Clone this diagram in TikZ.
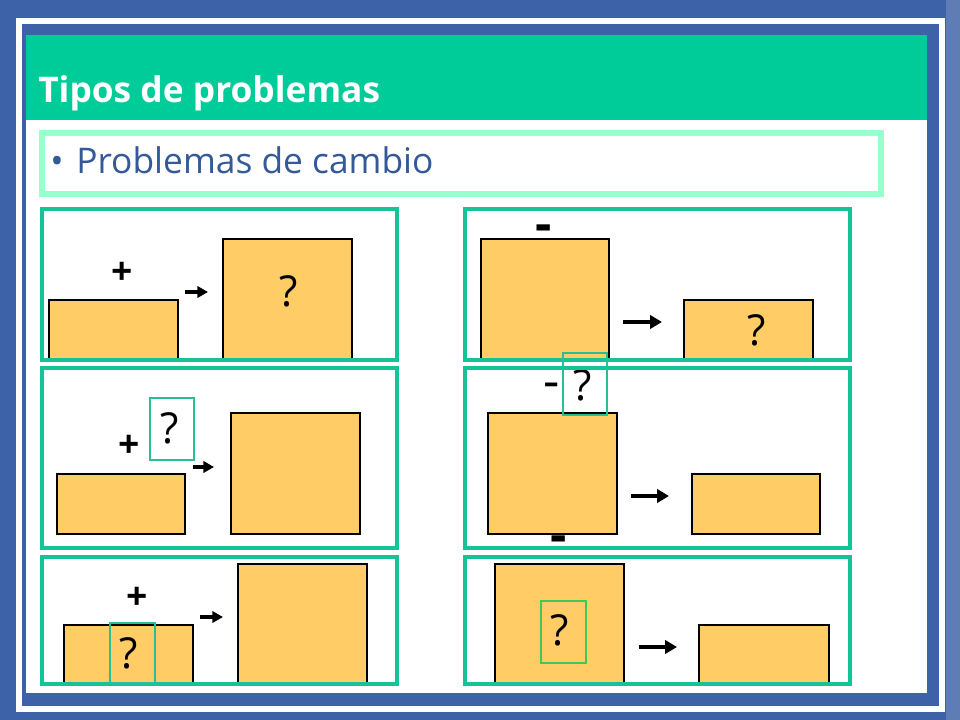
\documentclass[tikz,border=0pt]{standalone}
\usepackage{fontspec}
\setmainfont{Open Sans}
\usetikzlibrary{arrows.meta}
\definecolor{bgblue}{RGB}{62,98,168}
\definecolor{bgblue2}{RGB}{95,125,180}
\definecolor{hdr}{RGB}{0,204,153}
\definecolor{pnl}{RGB}{20,196,150}
\definecolor{subb}{RGB}{153,255,204}
\definecolor{subt}{RGB}{51,90,150}
\definecolor{boxf}{RGB}{255,204,102}
\definecolor{qbox}{RGB}{40,190,150}
\definecolor{qboxg}{RGB}{60,200,90}
\begin{document}
\begin{tikzpicture}[x=0.75pt,y=-0.75pt,
  panel/.style={draw=pnl,line width=3pt},
  obox/.style={fill=boxf,draw=black,line width=0.8pt},
  qframe/.style={draw=qbox,line width=0.8pt},
  arr/.style={-{Triangle[length=9pt,width=10pt]},line width=3.4pt},
  sarr/.style={-{Triangle[length=8pt,width=8.5pt]},line width=3.4pt},
  plus/.style={font=\fontsize{28}{30}\selectfont\bfseries,inner sep=0pt},
  minus/.style={font=\fontsize{38}{40}\selectfont\bfseries,inner sep=0pt},
  thinminus/.style={font=\fontsize{38}{40}\selectfont,inner sep=0pt},
  qm/.style={font=\fontsize{32}{34}\selectfont,inner sep=0pt}]
\useasboundingbox (0,0) rectangle (960,720);
% background
\fill[bgblue] (0,0) rectangle (960,720);
\fill[bgblue2] (946,0) rectangle (960,720);
\draw[white,line width=4.5pt] (19,21) rectangle (942,709);
\fill[white] (26,35) rectangle (927,693);
\fill[hdr] (26,35) rectangle (927,120);
\node[anchor=base west,text=white,font=\fontsize{26.5}{28}\selectfont\bfseries,inner sep=0pt] (title) at (38,103) {Tipos de problemas};
% subtitle
\draw[subb,line width=4.5pt] (42,133) rectangle (881,194);
\node[anchor=base west,text=subt,font=\fontsize{26.5}{28}\selectfont,inner sep=0pt] (bul) at (50,174) {•};
\node[anchor=base west,text=subt,font=\fontsize{26.5}{28}\selectfont,inner sep=0pt] (sub) at (76,174) {Problemas de cambio};
% panel 1
\draw[obox] (49,300) rectangle (178,360);
\draw[obox] (223,239) rectangle (352,360);
\node[plus] (p1s) at (122,273) {+};
\node[qm] (p1q) at (289,291) {?};
\coordinate (a1s) at (185,292); \coordinate (a1e) at (208,292);
\draw[sarr] (a1s) -- (a1e);
% panel 2
\draw[obox] (481,239) rectangle (609,360);
\draw[obox] (684,300) rectangle (813,360);
\node[minus] (p2s) at (544,233) {-};
\node[qm] (p2q) at (757,330) {?};
\coordinate (a2s) at (623,322); \coordinate (a2e) at (662,322);
\draw[arr] (a2s) -- (a2e);
% panel 3
\draw[obox] (57,474) rectangle (185,534);
\draw[obox] (231,413) rectangle (360,534);
\node[plus] (p3s) at (129,446) {+};
\node[qm] (p3q) at (170,428) {?};
\coordinate (a3s) at (193,467); \coordinate (a3e) at (214,467);
\draw[sarr] (a3s) -- (a3e);
% panel 4
\draw[obox] (488,413) rectangle (617,534);
\draw[obox] (692,474) rectangle (820,534);
\node[thinminus] (p4s) at (552,391) {-};
\node[qm] (p4q) at (583,385) {?};
\node[minus] (p4b) at (559,544) {-};
\coordinate (a4s) at (631,496); \coordinate (a4e) at (669,496);
\draw[arr] (a4s) -- (a4e);
% panel 5
\draw[obox] (64,625) rectangle (193,684);
\draw[obox] (238,564) rectangle (367,684);
\node[plus] (p5s) at (137,598) {+};
\node[qm] (p5q) at (129,653) {?};
\coordinate (a5s) at (200,617); \coordinate (a5e) at (223,617);
\draw[sarr] (a5s) -- (a5e);
% panel 6
\draw[obox] (495,564) rectangle (624,684);
\draw[obox] (699,625) rectangle (829,684);
\node[qm] (p6q) at (560,630) {?};
\coordinate (a6s) at (639,647); \coordinate (a6e) at (677,647);
\draw[arr] (a6s) -- (a6e);
% panel frames
\draw[panel] (42,209) rectangle (397,360);
\draw[panel] (465,209) rectangle (850,360);
\draw[panel] (42,368) rectangle (397,548);
\draw[panel] (465,368) rectangle (850,548);
\draw[panel] (42,557) rectangle (397,684);
\draw[panel] (465,557) rectangle (850,684);
% question frames
\draw[qframe] (150,398) rectangle (194,460);
\draw[qframe] (563,353) rectangle (607,415);
\draw[qframe] (110,623) rectangle (155,683);
\draw[qframe,draw=qboxg] (541,601) rectangle (586,663);
\end{tikzpicture}
\end{document}
